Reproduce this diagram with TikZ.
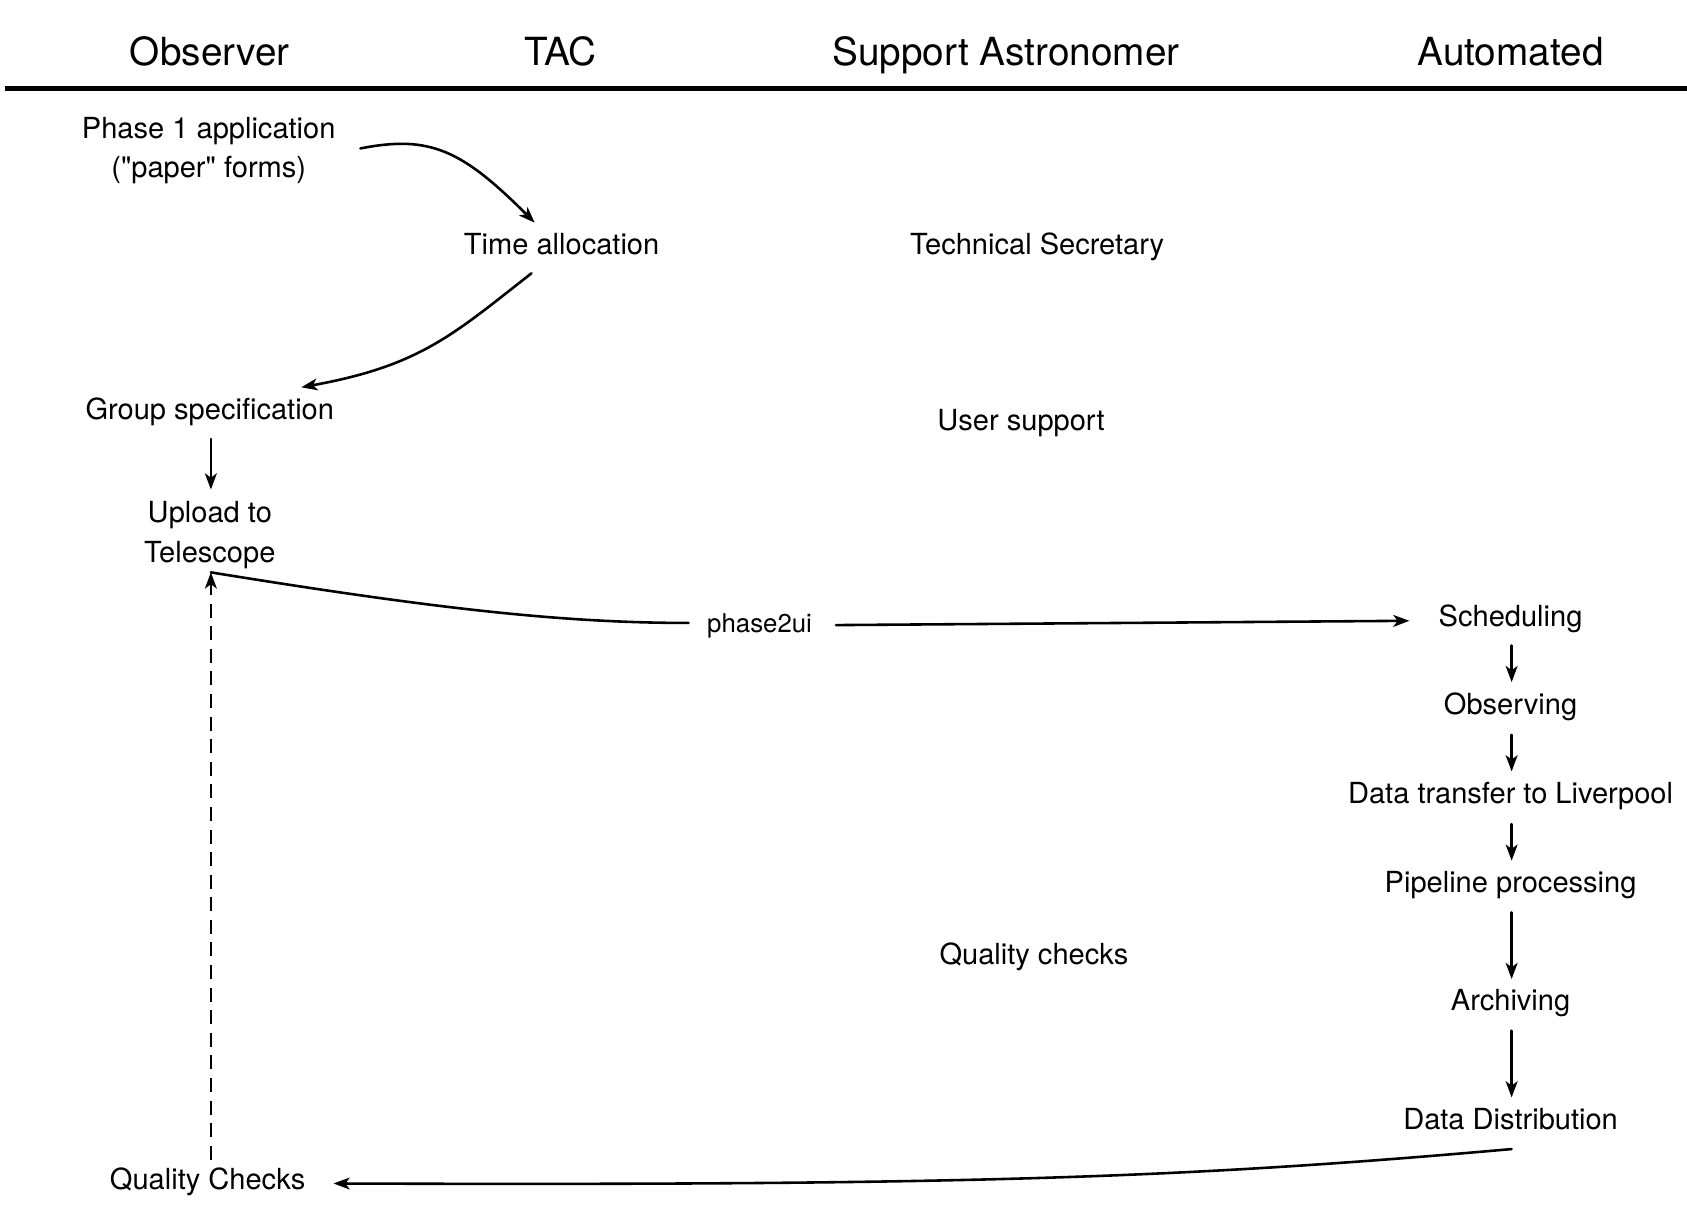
\documentclass[tikz,border=0pt]{standalone}
\usepackage{fontspec}
\setmainfont{TeX Gyre Heros}
\usetikzlibrary{arrows.meta,calc}
\begin{document}
\begin{tikzpicture}[x=0.5pt,y=-0.5pt,
  hdr/.style={inner sep=0pt, font=\fontsize{18}{22}\selectfont},
  txt/.style={inner sep=0pt, align=center, font=\fontsize{13.5}{18.5}\selectfont},
  small/.style={inner sep=0pt, font=\fontsize{12}{15}\selectfont},
  conn/.style={line width=1.2pt, line cap=round},
  arr/.style={conn, -{Stealth[length=7.5pt,width=5.5pt,inset=2pt]}},
  dasharr/.style={arr, line cap=butt, dash pattern=on 6.5pt off 4pt}
]
\useasboundingbox (0,0) rectangle (1568,1134);
% header
\node[hdr] (hObs) at (195,48) {Observer};
\node[hdr] (hTAC) at (521,48) {TAC};
\node[hdr] (hSA) at (935,51) {Support Astronomer};
\node[hdr] (hAuto) at (1404,48) {Automated};
\coordinate (hl) at (5,82);
\coordinate (hr) at (1568,82);
\draw[line width=2.2pt] (hl) -- (hr);
% nodes
\node[txt] (phase1) at (194,140) {Phase 1 application\\(\textquotedbl paper\textquotedbl\ forms)};
\node[txt] (timealloc) at (522,227) {Time allocation};
\node[txt] (techsec) at (964,229) {Technical Secretary};
\node[txt] (groupspec) at (195,383) {Group specification};
\node[txt] (usersupport) at (949,393) {User support};
\node[txt] (upload) at (195,497) {Upload to\\Telescope};
\node[small] (phase2ui) at (706,582) {phase2ui};
\node[txt] (sched) at (1404,575) {Scheduling};
\node[txt] (observ) at (1404,657) {Observing};
\node[txt] (dtrans) at (1404,740) {Data transfer to Liverpool};
\node[txt] (pipe) at (1404,823) {Pipeline processing};
\node[txt] (qcsa) at (961,889) {Quality checks};
\node[txt] (arch) at (1404,932) {Archiving};
\node[txt] (ddist) at (1404,1040) {Data Distribution};
\node[txt] (QC) at (193,1098) {Quality Checks};
% connectors
\draw[arr] ($(phase1)+(141,-2)$) .. controls (400,125) and (430,140) .. ($(timealloc)+(-25,-20)$);
\draw[arr] ($(timealloc)+(-28,27)$) .. controls (420,312) and (390,340) .. ($(groupspec)+(85,-23)$);
\draw[arr] ($(groupspec)+(1,25)$) -- ($(upload)+(1,-42)$);
\draw[conn] ($(phase2ui)+(-66,-3)$) .. controls (520,579) and (400,565) .. ($(upload)+(1,35)$);
\draw[arr] ($(phase2ui)+(71,-1)$) -- ($(sched)+(-94,2)$);
\draw[arr] ($(sched)+(1,25)$) -- ($(observ)+(1,-23)$);
\draw[arr] ($(observ)+(1,26)$) -- ($(dtrans)+(1,-23)$);
\draw[arr] ($(dtrans)+(1,26)$) -- ($(pipe)+(1,-23)$);
\draw[arr] ($(pipe)+(1,25)$) -- ($(arch)+(1,-22)$);
\draw[arr] ($(arch)+(1,26)$) -- ($(ddist)+(1,-20)$);
\draw[arr] ($(ddist)+(1,28)$) .. controls (1100,1095) and (900,1102) .. ($(QC)+(117,2)$);
\draw[dasharr] ($(QC)+(3,-20)$) -- ($(upload)+(1,35)$);
\end{tikzpicture}
\end{document}
